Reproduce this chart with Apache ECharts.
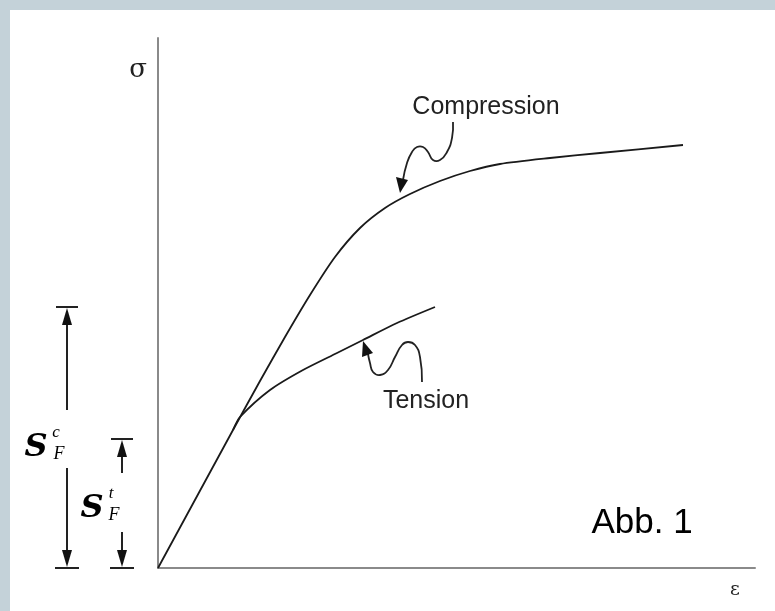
<!DOCTYPE html>
<html>
<head>
<meta charset="utf-8">
<script src="https://cdn.jsdelivr.net/npm/echarts@6/dist/echarts.min.js"></script>
<style>
  html, body { margin: 0; padding: 0; background: #fff; }
  #myChart { width: 775px; height: 611px; }
</style>
</head>
<body>
<div id="myChart"></div>
<script>
// strain / stress (arbitrary units)
const compStrain = [0, 75, 102, 127, 152, 177, 202, 227, 252, 282, 312, 342, 392, 442, 525];
const compStress = [0, 138, 187, 231, 273, 311, 340, 360, 374, 387, 397, 404, 410, 415, 423];
// tension branches off the shared elastic line at the kink
const tensStrain = [75, 82, 112, 145, 179, 205, 239, 277];
const tensStress = [138, 151, 178, 198, 215, 228, 245, 261];
// yield levels marked on the left: compression, tension
const yieldStress = [261, 129];

let myChart = echarts.init(document.getElementById('myChart'));

function pairs(xs, ys) {
  return xs.map((x, i) => [x, ys[i]]);
}

let lineStyle = { color: '#1a1a1a', width: 1.8 };

let option = {
  backgroundColor: '#fff',
  animation: false,
  grid: { left: 158, right: 20, top: 38, bottom: 43 },
  xAxis: {
    type: 'value', min: 0, max: 597,
    axisLine: { lineStyle: { color: '#8a8a8a', width: 2 } },
    axisTick: { show: false }, axisLabel: { show: false }, splitLine: { show: false }
  },
  yAxis: {
    type: 'value', min: 0, max: 530,
    axisLine: { show: true, lineStyle: { color: '#8a8a8a', width: 2 } },
    axisTick: { show: false }, axisLabel: { show: false }, splitLine: { show: false }
  },
  series: [
    {
      name: 'Compression', type: 'line', smooth: 0.25, symbol: 'none',
      lineStyle: lineStyle, data: pairs(compStrain, compStress)
    },
    {
      name: 'Tension', type: 'line', smooth: 0.25, symbol: 'none',
      lineStyle: lineStyle, data: pairs(tensStrain, tensStress)
    }
  ]
};
myChart.setOption(option);

// pixel rows of the yield levels and of the strain axis
let yC = myChart.convertToPixel({ gridIndex: 0 }, [0, yieldStress[0]])[1];
let yT = myChart.convertToPixel({ gridIndex: 0 }, [0, yieldStress[1]])[1];
let y0 = myChart.convertToPixel({ gridIndex: 0 }, [0, 0])[1];

let ink = '#222';

// dimension arrow with a gap for the label
function dimArrow(x, yTop, yBot, gapA, gapB) {
  let s = { stroke: ink, lineWidth: 2 };
  return [
    { type: 'line', shape: { x1: x - 11, y1: yTop, x2: x + 11, y2: yTop }, style: s },
    { type: 'line', shape: { x1: x - 12, y1: yBot, x2: x + 12, y2: yBot }, style: s },
    { type: 'line', shape: { x1: x, y1: yTop + 10, x2: x, y2: gapA }, style: s },
    { type: 'line', shape: { x1: x, y1: gapB, x2: x, y2: yBot - 10 }, style: s },
    { type: 'polygon', shape: { points: [[x, yTop + 1], [x - 5, yTop + 18], [x + 5, yTop + 18]] }, style: { fill: '#111' } },
    { type: 'polygon', shape: { points: [[x, yBot - 1], [x - 5, yBot - 18], [x + 5, yBot - 18]] }, style: { fill: '#111' } }
  ];
}

function sLabel(x, y, sup, dx) {
  return [
    { type: 'text', x: x, y: y, style: { text: 'S', font: 'bold italic 32px "DejaVu Serif"', fill: '#000', align: 'center', verticalAlign: 'middle' } },
    { type: 'text', x: x + dx, y: y - 15, style: { text: sup, font: 'italic 17px "Liberation Serif"', fill: '#000', align: 'center', verticalAlign: 'middle' } },
    { type: 'text', x: x + dx + 3, y: y + 6, style: { text: 'F', font: 'italic 18px "Liberation Serif"', fill: '#000', align: 'center', verticalAlign: 'middle' } }
  ];
}

let graphic = [
  { type: 'rect', shape: { x: 0, y: 0, width: 775, height: 10 }, style: { fill: '#c4d2d9' } },
  { type: 'rect', shape: { x: 0, y: 0, width: 10, height: 611 }, style: { fill: '#c4d2d9' } },
  { type: 'text', x: 138, y: 70, style: { text: 'σ', font: '26px "DejaVu Serif"', fill: '#222', align: 'center', verticalAlign: 'middle' } },
  { type: 'text', x: 735, y: 590, style: { text: 'ε', font: '19px "DejaVu Serif"', fill: '#222', align: 'center', verticalAlign: 'middle' } },
  { type: 'text', x: 486, y: 107, style: { text: 'Compression', font: '25px "Liberation Sans"', fill: '#222', align: 'center', verticalAlign: 'middle' } },
  { type: 'text', x: 426, y: 401, style: { text: 'Tension', font: '25px "Liberation Sans"', fill: '#222', align: 'center', verticalAlign: 'middle' } },
  { type: 'text', x: 642, y: 523, style: { text: 'Abb. 1', font: '35px "Liberation Sans"', fill: '#000', align: 'center', verticalAlign: 'middle' } },
  // wavy pointers
  {
    type: 'polyline', shape: { smooth: 0.5, points: [[453, 122], [452, 138], [447, 152], [440, 160], [433, 160], [428, 152], [423, 147], [417, 147], [412, 152], [407, 163], [403, 180]] },
    style: { stroke: ink, lineWidth: 1.8, fill: null }
  },
  { type: 'polygon', shape: { points: [[400, 193], [396, 177], [408, 180]] }, style: { fill: '#111' } },
  {
    type: 'polyline', shape: { smooth: 0.5, points: [[422, 382], [420, 357], [415, 345], [408, 342], [402, 345], [395, 357], [388, 370], [380, 375], [373, 372], [370, 363], [368, 354]] },
    style: { stroke: ink, lineWidth: 1.8, fill: null }
  },
  { type: 'polygon', shape: { points: [[363, 341], [362, 357], [373, 353]] }, style: { fill: '#111' } }
];

graphic = graphic
  .concat(dimArrow(67, yC, y0, 410, 468))
  .concat(dimArrow(122, yT, y0, 473, 532))
  .concat(sLabel(36, 448, 'c', 20))
  .concat(sLabel(92, 509, 't', 19));

myChart.setOption({ graphic: graphic });
</script>
</body>
</html>
